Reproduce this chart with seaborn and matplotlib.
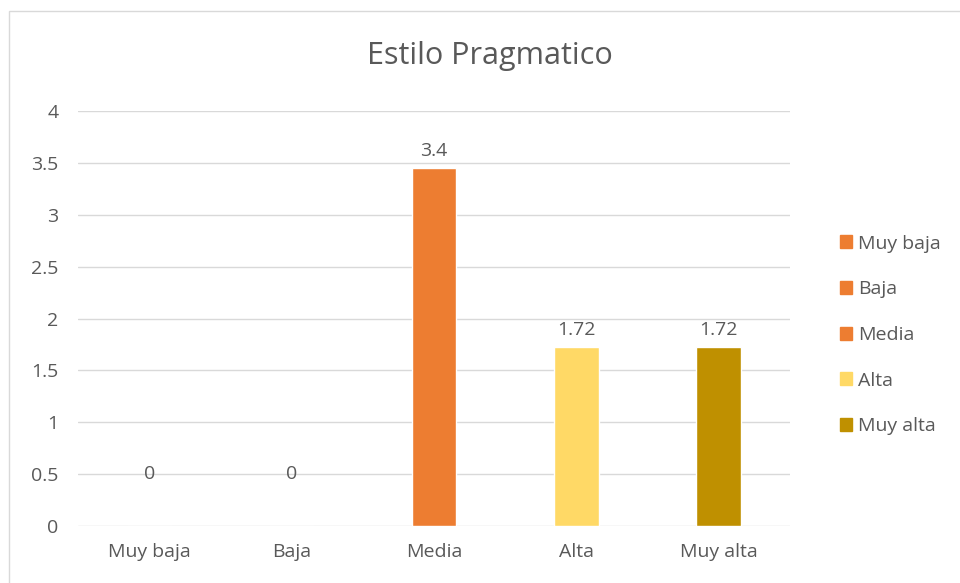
import seaborn as sns
import pandas as pd
import matplotlib.pyplot as plt
from matplotlib.patches import Rectangle

# %%
categorias = ['Muy baja', 'Baja', 'Media', 'Alta', 'Muy alta']
valores = [0, 0, 3.45, 1.725, 1.725]
etiquetas = ['0', '0', '3.4', '1.72', '1.72']
colores = ['#ED7D31', '#ED7D31', '#ED7D31', '#FFD966', '#BF9000']
yticks = [0, 0.5, 1, 1.5, 2, 2.5, 3, 3.5, 4]
ytick_labels = ['0', '0.5', '1', '1.5', '2', '2.5', '3', '3.5', '4']

df = pd.DataFrame({'nivel': categorias, 'valor': valores})

# %%
sns.set_style('white')
plt.rcParams['font.family'] = ['Open Sans', 'DejaVu Sans']
gris = '#595959'

fig = plt.figure(figsize=(9.6, 5.83), dpi=100)
ax = fig.add_axes([78 / 960, 1 - 526 / 583, 712 / 960, 415 / 583])

sns.barplot(data=df, x='nivel', y='valor', hue='nivel', order=categorias,
            hue_order=categorias, palette=colores, width=0.316, ax=ax,
            legend=False, saturation=1)

ax.set_ylim(0, 4)
ax.set_xlim(-0.5, 4.5)
ax.set_yticks(yticks)
ax.set_yticklabels(ytick_labels)
ax.grid(axis='y', color='#D9D9D9', linewidth=1)
ax.set_axisbelow(True)
for s in ax.spines.values():
    s.set_visible(False)
ax.tick_params(axis='both', length=0, labelsize=14, labelcolor=gris)
ax.tick_params(axis='x', pad=12)
ax.tick_params(axis='y', pad=14)
ax.set_xlabel('')
ax.set_ylabel('')

for cont, lab, v in zip(ax.containers, etiquetas, valores):
    pad = 6 if v > 0 else 31
    ax.bar_label(cont, labels=[lab], padding=pad, fontsize=14, color=gris)

fig.text(490 / 960, 1 - 56 / 583, 'Estilo Pragmatico', ha='center', va='center',
         fontsize=22, color=gris)

handles = [Rectangle((0, 0), 1, 1, color=c) for c in colores]
fig.legend(handles, categorias, loc='center left', bbox_to_anchor=(822 / 960, 1 - 335 / 583),
           frameon=False, fontsize=14, labelcolor=gris, handlelength=0.65,
           handleheight=0.65, handletextpad=0.3, labelspacing=1.42)

fig.patches.append(Rectangle((9 / 960, -0.1), 1.1, 1 - 11 / 583 + 0.1, transform=fig.transFigure,
                             fill=False, edgecolor='#D9D9D9', linewidth=1))

plt.savefig('out.png', dpi=100)
